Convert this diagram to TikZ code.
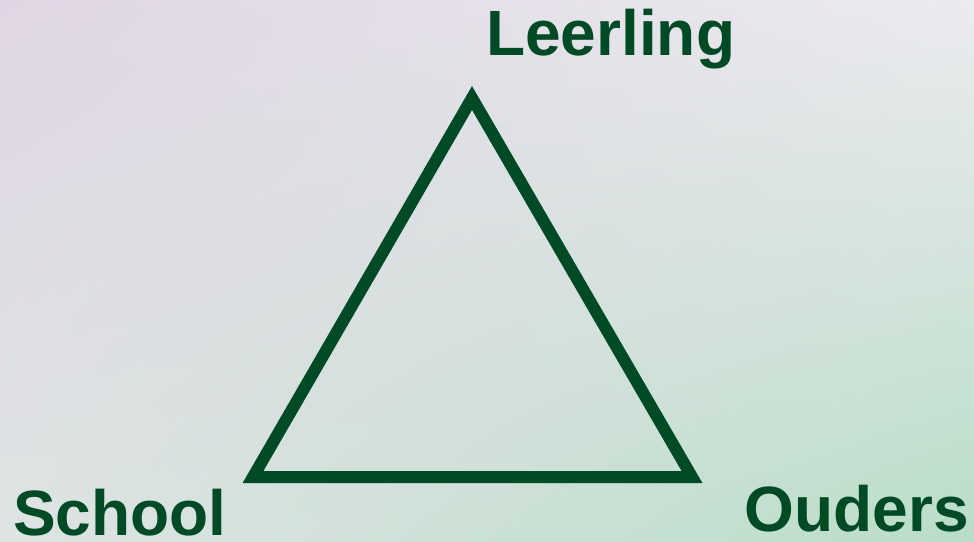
\documentclass[tikz,border=0pt]{standalone}
\usepackage{fontspec}
\setmainfont{Liberation Sans}
\usetikzlibrary{shadings}
\definecolor{dkgreen}{HTML}{004A25}
\definecolor{bgtl}{HTML}{E0D5E4}
\definecolor{bgtr}{HTML}{EBEBEF}
\definecolor{bgbl}{HTML}{DEE4E3}
\definecolor{bgbr}{HTML}{B9DDC7}
\tikzset{
  lbl/.style={anchor=base west, inner sep=0pt, text=dkgreen, font=\fontsize{64}{64}\selectfont\bfseries},
  tri/.style={draw=dkgreen, line width=12pt, line join=miter}
}
\begin{document}
\begin{tikzpicture}[x=1pt,y=-1pt]
\useasboundingbox (0,0) rectangle (974,541);
\shade[upper left=bgtl, upper right=bgtr, lower left=bgbl, lower right=bgbr] (0,0) rectangle (974,541);
\coordinate (A) at (472,98);
\coordinate (B) at (253,477);
\coordinate (C) at (692,477);
\draw[tri] (A) -- (B) -- (C) -- cycle;
\node[lbl] (leerling) at (486,55) {Leerling};
\node[lbl] (school) at (13,535) {School};
\node[lbl] (ouders) at (744.5,531) {Ouders};
\end{tikzpicture}
\end{document}
